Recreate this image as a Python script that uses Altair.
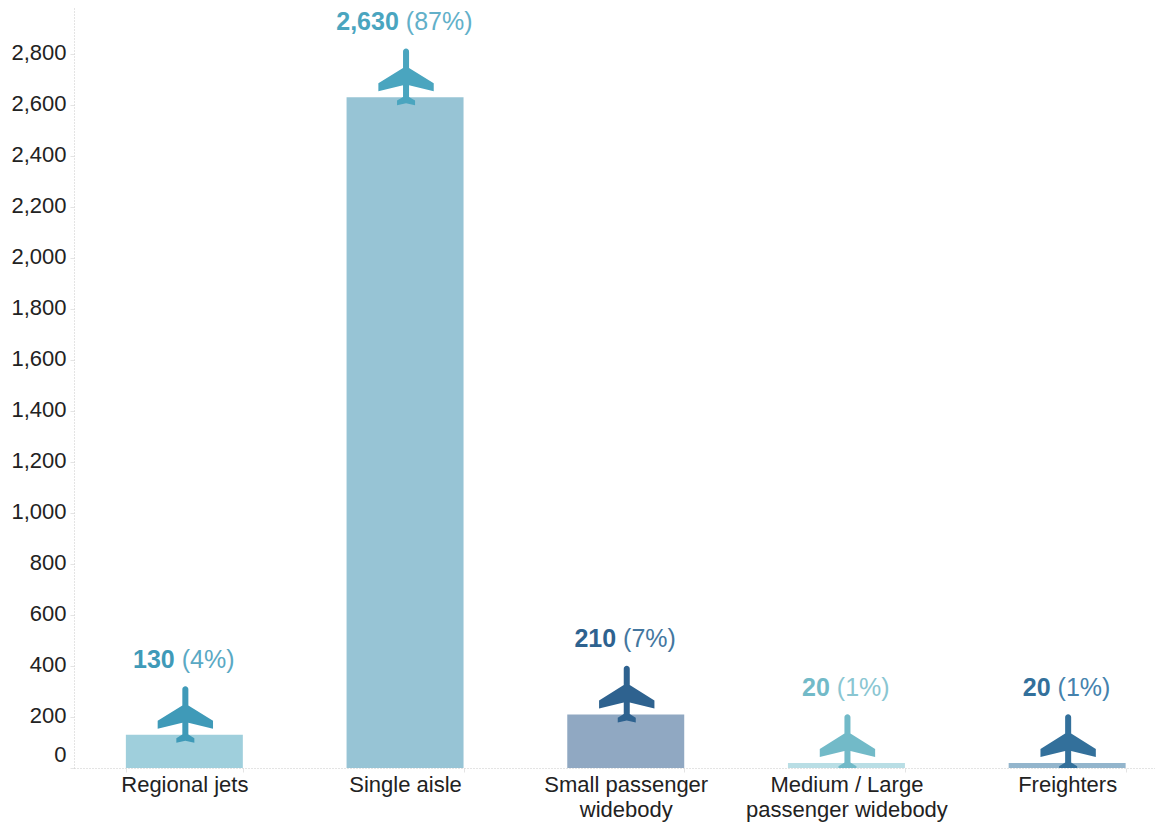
import altair as alt
import pandas as pd

categories = ["Regional jets", "Single aisle", "Small passenger|widebody", "Medium / Large|passenger widebody", "Freighters"]
values = [130, 2630, 210, 20, 20]
shares = ["(4%)", "(87%)", "(7%)", "(1%)", "(1%)"]
counts = ["130", "2,630", "210", "20", "20"]
bar_colors = ["#9fcfdc", "#97c4d5", "#90a8c2", "#b9dee5", "#93b5cc"]
plane_colors = ["#3f9ab8", "#4aa5bf", "#2e628f", "#72bac8", "#33709b"]
share_colors = ["#5aa9c4", "#62b0c9", "#44779f", "#8ac6d2", "#4582ad"]
y_ticks = list(range(0, 3000, 200))
FONT = "Liberation Sans"

df = pd.DataFrame({"cat": categories, "value": values, "share": shares, "count": counts})

# Unit plane outline (nose up); Vega scales custom paths by sqrt(size)/2.
raw = [(9, -28), (83, 18), (83, 42), (9, 24), (9, 59), (27, 70), (27, 84), (0, 78),
       (-27, 84), (-27, 70), (-9, 59), (-9, 24), (-83, 42), (-83, 18), (-9, -28), (-9, -77)]
f = lambda v: f"{v/86:.3f}"
plane = f"M{f(9)} {f(-77)}L" + " L".join(f"{f(a)} {f(b)}" for a, b in raw[:-1])
plane += f" L{f(-9)} {f(-77)}A{f(9)} {f(9)} 0 0 1 {f(9)} {f(-77)}Z"

x = alt.X("cat:N", sort=categories, title=None,
          scale=alt.Scale(range=[0, 1103.5], paddingInner=0.47, paddingOuter=0.235),
          axis=alt.Axis(labelExpr="split(datum.label,'|')", labelAngle=0, labelFontSize=22, labelFont=FONT,
                        labelColor="#222222", labelLineHeight=25, labelPadding=2, labelLimit=400,
                        labelOverlap=False, tickBand="extent", tickSize=4, tickColor="#e4e4e4",
                        domainColor="#c8c8c8", domainDash=[1, 2], grid=False))
y = alt.Y("value:Q", title=None, scale=alt.Scale(domain=[0, 2980], nice=False),
          axis=alt.Axis(values=y_ticks[:15], labelExpr="format(datum.value, ',.0f')", labelFontSize=22,
                        labelFont=FONT, labelColor="#222222",
                        labelPadding=4, tickSize=4, tickColor="#e4e4e4", domainColor="#c8c8c8",
                        domainDash=[1, 2], grid=False,
                        labelOffset={"condition": {"test": "datum.value === 0", "value": -14}, "value": -1.5}))

base = alt.Chart(df)
bars = base.mark_bar(opacity=1).encode(x=x, y=y, color=alt.Color("cat:N", legend=None, scale=alt.Scale(domain=categories, range=bar_colors)))
layers = [bars]
for i, cat in enumerate(categories):
    sub = alt.Chart(df[df["cat"] == cat])
    layers.append(sub.mark_point(shape=plane, size=3290, filled=True, opacity=1, clip=True, xOffset=1, yOffset=-20,
                                 color=plane_colors[i]).encode(x=x, y=y))
    # split the label around the centre using Arial-like advance widths
    wb = sum(6.9 if c == "," else 13.9 for c in counts[i])
    wp = 55 if len(shares[i]) == 4 else 69
    split = (wb - wp) / 2 + 0.5
    layers.append(sub.mark_text(align="right", baseline="middle", dx=split - 3.5, dy=-75, font=FONT, fontSize=25,
                                fontWeight="bold", color=plane_colors[i]).encode(x=x, y=y, text="count:N"))
    layers.append(sub.mark_text(align="left", baseline="middle", dx=split + 3.5, dy=-75, font=FONT, fontSize=25,
                                color=share_colors[i]).encode(x=x, y=y, text="share:N"))

chart = alt.layer(*layers).properties(
    width=1081, height=760,
    autosize=alt.AutoSizeParams(type="none"),
    padding={"left": 66, "top": 0, "right": 0, "bottom": 55},
).configure_view(stroke=None)

chart.save("out.html", embed_options={"renderer": "svg", "actions": False})
